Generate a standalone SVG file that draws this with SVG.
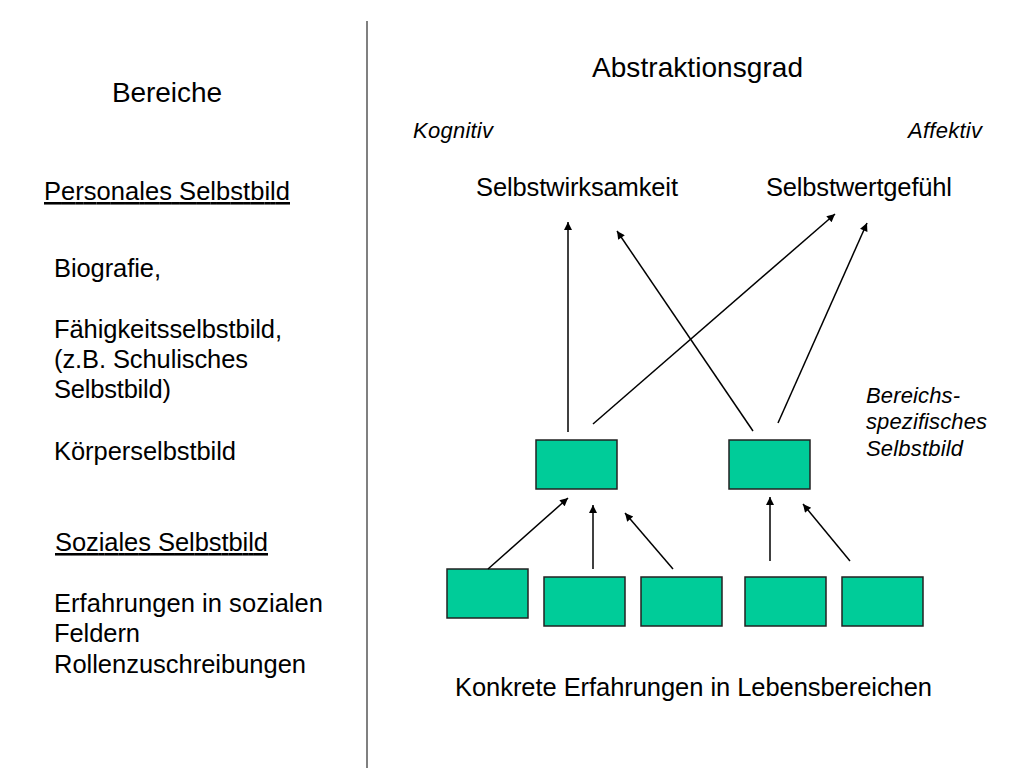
<svg xmlns="http://www.w3.org/2000/svg" width="1024" height="768" viewBox="0 0 1024 768">
<defs>
<marker id="ah" viewBox="0 0 10 10" refX="10" refY="5" markerWidth="10" markerHeight="8" markerUnits="userSpaceOnUse" orient="auto">
<path d="M0,0 L10,5 L0,10 z" fill="#000"/>
</marker>
<style>
text{font-family:"Liberation Sans",Arial,sans-serif;fill:#000}
.l{font-size:25.5px}
.h{font-size:28px}
.i{font-size:22px;font-style:italic}
.u{text-decoration:underline}
.box{fill:#00CC99;stroke:#222;stroke-width:1.5}
.c line{stroke:#000;stroke-width:1.5;marker-end:url(#ah)}
</style>
</defs>
<rect width="1024" height="768" fill="#fff"/>
<line x1="367" y1="21" x2="367" y2="768" stroke="#808080" stroke-width="2"/>
<g id="left">
<text class="h" x="112" y="102" textLength="110">Bereiche</text>
<text class="l u" x="44" y="200" textLength="246">Personales Selbstbild</text>
<text class="l" x="54" y="277" textLength="107">Biografie,</text>
<text class="l" x="54" y="338" textLength="228">Fähigkeitsselbstbild,</text>
<text class="l" x="54" y="368" textLength="194">(z.B. Schulisches</text>
<text class="l" x="54" y="398" textLength="117">Selbstbild)</text>
<text class="l" x="54" y="460" textLength="182">Körperselbstbild</text>
<text class="l u" x="55" y="551" textLength="213">Soziales Selbstbild</text>
<text class="l" x="54" y="612" textLength="269">Erfahrungen in sozialen</text>
<text class="l" x="54" y="642" textLength="86">Feldern</text>
<text class="l" x="54" y="673" textLength="252">Rollenzuschreibungen</text>
</g>
<g id="labels">
<text class="h" x="592" y="77" textLength="211">Abstraktionsgrad</text>
<text class="i" x="413" y="138" textLength="80">Kognitiv</text>
<text class="i" x="908" y="138" textLength="74">Affektiv</text>
<text class="i" x="866" y="403" textLength="94">Bereichs-</text>
<text class="i" x="866" y="429" textLength="121">spezifisches</text>
<text class="i" x="866" y="456" textLength="97">Selbstbild</text>
<text class="l" x="455" y="696" textLength="477">Konkrete Erfahrungen in Lebensbereichen</text>
</g>
<g id="selbstwirksamkeit"><text class="l" x="476" y="196" textLength="202">Selbstwirksamkeit</text></g>
<g id="selbstwertgefuehl"><text class="l" x="766" y="196" textLength="186">Selbstwertgefühl</text></g>
<g id="bereich1"><rect class="box" x="536" y="440" width="81" height="49"/></g>
<g id="bereich2"><rect class="box" x="729" y="440" width="81" height="49"/></g>
<g id="erf1"><rect class="box" x="447" y="569" width="81" height="49"/></g>
<g id="erf2"><rect class="box" x="544" y="577" width="81" height="49"/></g>
<g id="erf3"><rect class="box" x="641" y="577" width="81" height="49"/></g>
<g id="erf4"><rect class="box" x="745" y="577" width="81" height="49"/></g>
<g id="erf5"><rect class="box" x="842" y="577" width="81" height="49"/></g>
<g id="connectors" class="c">
<line x1="568" y1="432" x2="568" y2="222"/>
<line x1="753" y1="431" x2="617" y2="231"/>
<line x1="593" y1="424" x2="835" y2="214"/>
<line x1="778" y1="423" x2="867" y2="223"/>
<line x1="488" y1="569" x2="568" y2="498"/>
<line x1="593" y1="569" x2="593" y2="505"/>
<line x1="673" y1="569" x2="625" y2="513"/>
<line x1="770" y1="561" x2="770" y2="497"/>
<line x1="850" y1="561" x2="803" y2="504"/>
</g>
</svg>
